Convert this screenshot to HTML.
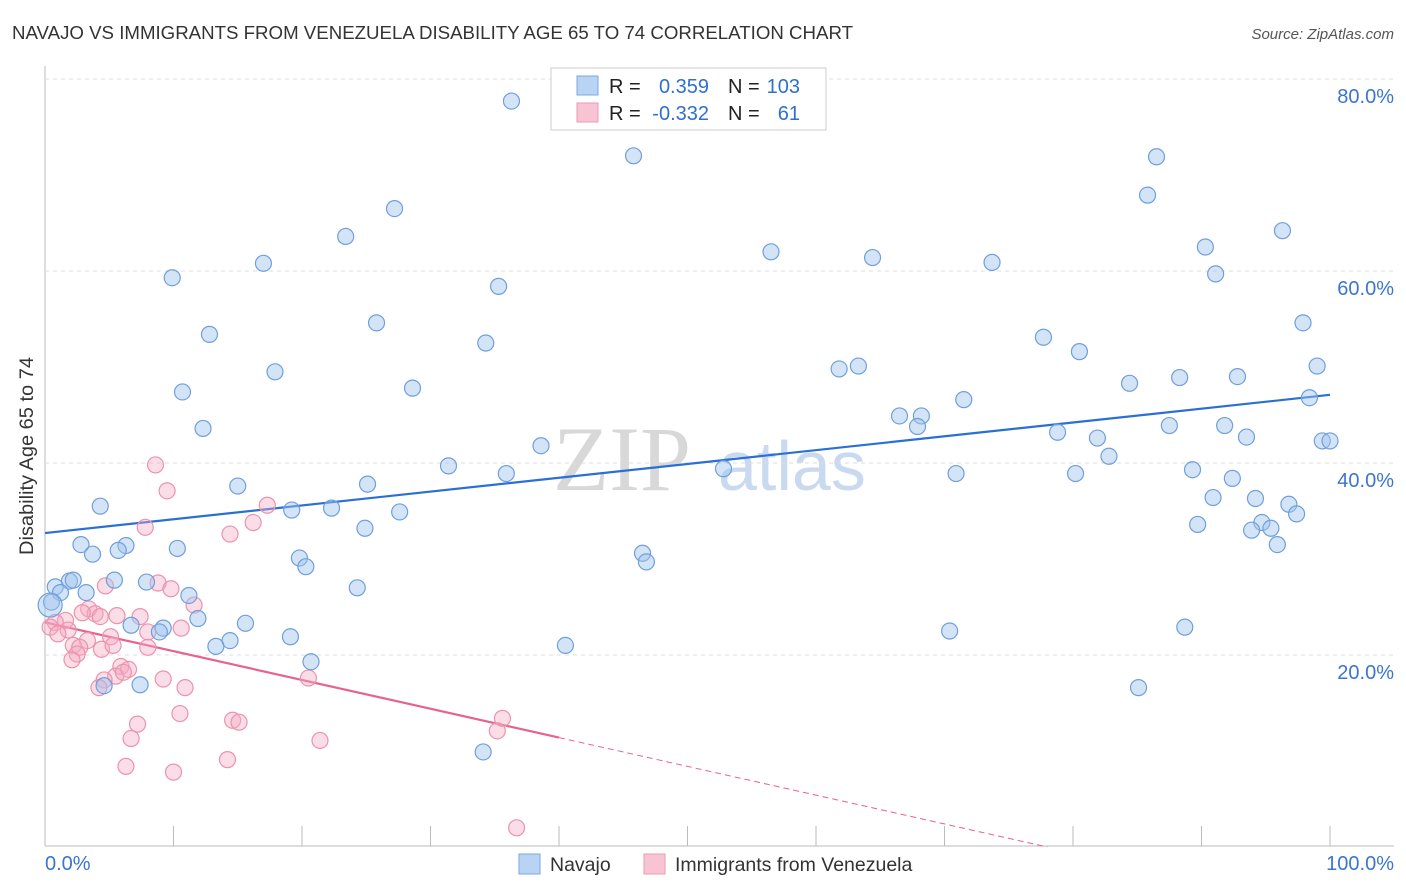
<!DOCTYPE html>
<html><head><meta charset="utf-8"><style>
body{margin:0;background:#fff;font-family:"Liberation Sans",sans-serif;}
svg{display:block}
</style></head><body>
<svg id="chart" width="1406" height="892">
<text x="12" y="39" font-size="18.5" fill="#333" textLength="841" lengthAdjust="spacingAndGlyphs">NAVAJO VS IMMIGRANTS FROM VENEZUELA DISABILITY AGE 65 TO 74 CORRELATION CHART</text>
<text x="1394" y="39" font-size="15" fill="#555" font-style="italic" text-anchor="end">Source: ZipAtlas.com</text>
<g>
<text x="553" y="490" font-size="92" font-family="Liberation Serif,serif" fill="#d8d8d8">ZIP</text>
<text x="718" y="490" font-size="70" fill="#c9daf0">atlas</text>
</g>
<text transform="translate(33,456) rotate(-90)" font-size="19" fill="#333" text-anchor="middle" textLength="198" lengthAdjust="spacingAndGlyphs">Disability Age 65 to 74</text>
<g id="grid"></g><g id="lines"></g><g id="pts"></g>
<g>
<rect x="551" y="68" width="275" height="62" fill="#fff" stroke="#ccc"/>
<rect x="577" y="76" width="21" height="19" fill="#b8d3f4" stroke="#7aa8e0"/>
<rect x="577" y="103" width="21" height="19" fill="#f8c4d4" stroke="#ee9ab3"/>
<g font-size="20" fill="#222">
<text x="609" y="93">R =</text><text x="609" y="120">R =</text>
<text x="728" y="93">N =</text><text x="728" y="120">N =</text>
</g>
<g font-size="20" fill="#2f6fd0">
<text x="709" y="93" text-anchor="end">0.359</text>
<text x="709" y="120" text-anchor="end">-0.332</text>
<text x="800" y="93" text-anchor="end">103</text>
<text x="800" y="120" text-anchor="end">61</text>
</g></g>
<g>
<rect x="519" y="854" width="21" height="20" fill="#b8d3f4" stroke="#7aa8e0"/>
<text x="550" y="871" font-size="19.5" fill="#333">Navajo</text>
<rect x="644" y="854" width="21" height="20" fill="#f8c4d4" stroke="#ee9ab3"/>
<text x="675" y="871" font-size="19.5" fill="#333">Immigrants from Venezuela</text>
</g>
</svg>
<script>
const yTicks=[20,40,60,80];
const yTickLabels=["20.0%","40.0%","60.0%","80.0%"];
const xTicks=[0,10,20,30,40,50,60,70,80,90,100];
const xEndLabels=["0.0%","100.0%"];
const navajoX=[36.3,45.8,86.5,85.8,27.2,23.4,96.3,90.3,56.5,64.4,73.7,17.0,91.1,9.9,35.3,25.8,97.9,12.8,34.3,77.7,80.5,99.0,61.8,63.3,17.9,92.8,88.3,84.4,28.6,10.7,98.4,71.5,66.5,68.2,67.9,87.5,91.8,12.3,78.8,93.5,81.9,99.4,100,38.6,82.8,31.4,52.8,89.3,35.9,70.9,80.2,92.4,15.0,25.1,90.9,94.2,4.3,96.8,19.2,22.3,27.6,97.4,24.9,89.7,94.7,95.4,93.9,2.8,6.3,5.7,10.3,95.9,3.7,46.5,19.8,46.8,20.3,1.9,2.2,5.4,7.9,0.8,24.3,1.2,3.2,11.2,0.5,11.9,6.7,15.6,9.2,8.9,70.4,88.7,19.1,14.4,13.3,40.5,20.7,7.4,4.6,85.1,34.1,0.4];
const navajoY=[77.7,72.0,71.9,67.9,66.5,63.6,64.2,62.5,62.0,61.4,60.9,60.8,59.7,59.3,58.4,54.6,54.6,53.4,52.5,53.1,51.6,50.1,49.8,50.1,49.5,49.0,48.9,48.3,47.8,47.4,46.8,46.6,44.9,44.9,43.8,43.9,43.9,43.6,43.2,42.7,42.6,42.3,42.3,41.8,40.7,39.7,39.4,39.3,38.9,38.9,38.9,38.4,37.6,37.8,36.4,36.3,35.5,35.7,35.1,35.3,34.9,34.7,33.2,33.6,33.8,33.2,33.0,31.5,31.4,30.9,31.1,31.5,30.5,30.6,30.1,29.7,29.2,27.7,27.8,27.8,27.6,27.1,27.0,26.5,26.5,26.2,25.5,23.8,23.1,23.3,22.8,22.4,22.5,22.9,21.9,21.5,20.9,21.0,19.3,16.9,16.8,16.6,9.9,25.2];
const venX=[8.6,9.5,17.3,16.2,7.8,14.4,4.7,8.8,9.8,11.6,3.4,3.9,2.9,5.6,7.4,4.3,1.6,0.8,0.4,1.8,10.6,8.0,1.0,5.1,3.3,2.2,2.7,4.4,8.0,5.3,2.5,2.1,5.9,6.5,5.5,6.1,9.2,20.5,4.6,4.2,10.9,10.5,14.6,15.1,7.2,35.6,35.2,6.7,21.4,14.2,6.3,10.0,36.7];
const venY=[39.8,37.1,35.6,33.8,33.3,32.6,27.2,27.5,26.9,25.2,24.8,24.3,24.4,24.1,24.0,24.0,23.6,23.4,22.9,22.6,22.8,22.4,22.2,21.9,21.5,21.0,20.8,20.6,20.8,21.0,20.1,19.5,18.8,18.5,17.8,18.2,17.5,17.6,17.4,16.6,16.6,13.9,13.2,13.0,12.8,13.4,12.1,11.3,11.1,9.1,8.4,7.8,2.0];
const navajoTrend=[32.7,47.1];
const venTrend=[23.4,-0.3];
const venSolidEnd=40;
const X0=45,X1=1330,Y0=847,YS=9.6;
const sx=v=>X0+(X1-X0)*v/100, sy=v=>Y0-v*YS;
const NS="http://www.w3.org/2000/svg";
function mk(tag,attrs,parent){const e=document.createElementNS(NS,tag);for(const k in attrs)e.setAttribute(k,attrs[k]);parent.appendChild(e);return e;}
const grid=document.getElementById('grid');
mk('line',{x1:45,y1:66,x2:45,y2:846,stroke:'#bbb'},grid);
mk('line',{x1:45,y1:846,x2:1394,y2:846,stroke:'#bbb'},grid);
yTicks.forEach((t,i)=>{
 const g=mk('line',{x1:45,y1:sy(t),x2:1394,y2:sy(t),stroke:'#ddd','stroke-dasharray':'4,4'},grid);
 
 
 const tx=mk('text',{x:1394,y:sy(t)+24,'font-size':20,fill:'#3a75d0','text-anchor':'end'},grid);
 tx.textContent=yTickLabels[i];
 
 
});
xTicks.forEach(t=>{
 const l=mk('line',{x1:sx(t),y1:826,x2:sx(t),y2:846,stroke:'#bbb'},grid);
 
 
});
[[0,'start',45],[100,'end',1394]].forEach((d,i)=>{
 const tx=mk('text',{x:d[2],y:870,'font-size':20,fill:'#3a75d0','text-anchor':d[1]},grid);
 tx.textContent=xEndLabels[i];
 
 
});
const pts=document.getElementById('pts');
venX.forEach((x,i)=>{
 const c=mk('circle',{cx:sx(x),cy:sy(venY[i]),r:8,fill:'rgba(244,170,195,0.4)',stroke:'#eb93ad','stroke-width':1.2},pts);
 
 
});
navajoX.forEach((x,i)=>{
 const c=mk('circle',{cx:sx(x),cy:sy(navajoY[i]),r:i==navajoX.length-1?12:8,fill:'rgba(160,195,238,0.45)',stroke:'#6f9fdc','stroke-width':1.2},pts);
 
 
});
const lines=document.getElementById('lines');
const nl=mk('line',{x1:sx(0),y1:sy(navajoTrend[0]),x2:sx(100),y2:sy(navajoTrend[1]),stroke:'#2a6fd6','stroke-width':2.2},lines);


const vy=x=>venTrend[0]+venTrend[1]*x;
const vl=mk('line',{x1:sx(0),y1:sy(vy(0)),x2:sx(venSolidEnd),y2:sy(vy(venSolidEnd)),stroke:'#e8628d','stroke-width':2.2},lines);


const zeroX=-venTrend[0]/venTrend[1];
const vd=mk('line',{x1:sx(venSolidEnd),y1:sy(vy(venSolidEnd)),x2:sx(zeroX),y2:sy(0),stroke:'#e8628d','stroke-width':1,'stroke-dasharray':'6,4'},lines);


</script>
</body></html>
